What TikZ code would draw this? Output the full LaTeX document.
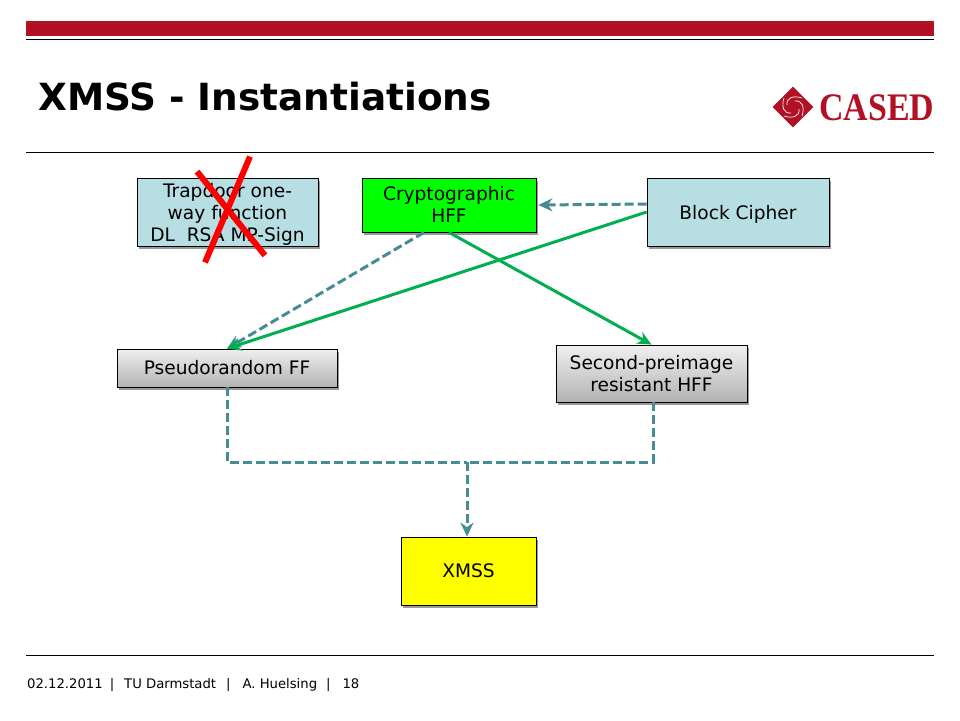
\documentclass[tikz,border=0pt]{standalone}
\usepackage{fontspec}
\setmainfont{DejaVu Sans}
\newfontfamily\logofont{Liberation Serif}
\usetikzlibrary{arrows.meta,positioning,calc,shadows,shapes.geometric}
\usepackage{xcolor}
\definecolor{Crimson}{RGB}{178,16,36}
\definecolor{PaleTeal}{RGB}{183,222,226}
\definecolor{DashTeal}{RGB}{70,140,150}
\definecolor{EdgeGreen}{RGB}{0,176,80}
\definecolor{HffGreen}{RGB}{0,255,0}
\definecolor{BoxYellow}{RGB}{255,255,0}
\definecolor{CrossRed}{RGB}{255,0,0}
\newcommand{\tdrop}{\rule{0pt}{18.5pt}}
\tikzset{
  tbox/.style={rectangle,draw=black,line width=.8pt,align=center,
               font=\fontsize{18.6}{22}\selectfont,inner sep=0pt,
               drop shadow={shadow xshift=1.5pt,shadow yshift=-2.5pt,opacity=.4,fill=black}},
  tpale/.style={tbox,fill=PaleTeal},
  tgray/.style={tbox,top color=gray!12,bottom color=gray!60},
  tgreen/.style={tbox,fill=HffGreen},
  tyellow/.style={tbox,fill=BoxYellow},
  tsolid/.style={-{Stealth[length=14pt,width=13pt]},EdgeGreen,line width=3pt},
  tdash/.style={-{Stealth[length=14pt,width=13pt]},DashTeal,line width=3pt,dash pattern=on 9pt off 4pt},
  trule/.style={black,line width=.8pt},
  tcross/.style={CrossRed,line width=6pt},
}
\begin{document}
\begin{tikzpicture}[x=1pt,y=-1pt]
    \useasboundingbox (0,0) rectangle (960,720);
    % header
    \fill[Crimson] (26,21) rectangle (934,36);
    \draw[trule] (26,39) -- (934,39);
    \draw[trule] (26,152) -- (934,152);
    \draw[trule] (26,655) -- (934,655);
    \node[anchor=west,inner sep=0pt,font=\fontsize{37.4}{40}\selectfont\bfseries] (title) at (38,97) {XMSS - Instantiations};
    \node[anchor=west,inner sep=0pt,font=\fontsize{13.2}{15}\selectfont] (foot) at (27,685) {02.12.2011\hspace{7pt}|\hspace{10pt}TU Darmstadt\hspace{10pt}|\hspace{12pt}A. Huelsing\hspace{9pt}|\hspace{12pt}18};
    % logo
    \node[diamond,fill=Crimson,minimum width=41pt,minimum height=41pt,inner sep=0pt] (mark) at (793,107) {};
    \foreach \ang in {0,90,180,270}
      \draw[white,line width=.7pt,rotate around={\ang:(mark.center)}] (795,101) .. controls (802,100) and (805,107) .. (802,116);
    \node[anchor=west,inner sep=0pt,text=Crimson,font=\fontsize{39}{42}\selectfont\logofont\bfseries] (cased) at (819,107.5) {\scalebox{.87}[1]{CASED}};
    % boxes
    \node[tpale,minimum width=181pt,minimum height=68pt] (trap) at (227.5,212) {\tdrop Trapdoor one-\\way function\\DL\ \ RSA MP-Sign};
    \node[tgreen,minimum width=174pt,minimum height=54pt] (hff) at (449,205) {\raisebox{1pt}{Cryptographic}\\\raisebox{1pt}{HFF}};
    \node[tpale,minimum width=182pt,minimum height=68pt] (cipher) at (738,212) {\tdrop Block Cipher};
    \node[tgray,minimum width=220pt,minimum height=38pt] (prf) at (227,368) {Pseudorandom FF};
    \node[tgray,minimum width=191pt,minimum height=57pt] (spr) at (651.5,373.5) {Second-preimage\\resistant HFF};
    \node[tyellow,minimum width=135pt,minimum height=68pt] (xmss) at (468.5,571) {XMSS};
    % connectors
    \coordinate (join) at (467,462);
    \draw[tdash] ([yshift=8pt]cipher.west) -- ([xshift=2pt]hff.east);
    \draw[tdash] ([xshift=-25pt]hff.south) -- (prf.north);
    \draw[tsolid] (cipher.west) -- (prf.north);
    \draw[tsolid] (hff.south) -- (spr.north);
    \draw[tdash,-] (prf.south) -- (prf.south |- join) -- (join);
    \draw[tdash,-] ([xshift=1.5pt]spr.south) -- ([xshift=1.5pt]spr.south |- join) -- (join);
    \draw[tdash] (join) -- ([xshift=-1.5pt]xmss.north);
    % cross over the first box
    \draw[tcross] ([xshift=22.5pt,yshift=21pt]trap.north) -- ([xshift=-22.5pt,yshift=-16pt]trap.south);
    \draw[tcross] ([xshift=-30.5pt,yshift=6pt]trap.north) -- ([xshift=37.5pt,yshift=-9pt]trap.south);
\end{tikzpicture}
\end{document}
